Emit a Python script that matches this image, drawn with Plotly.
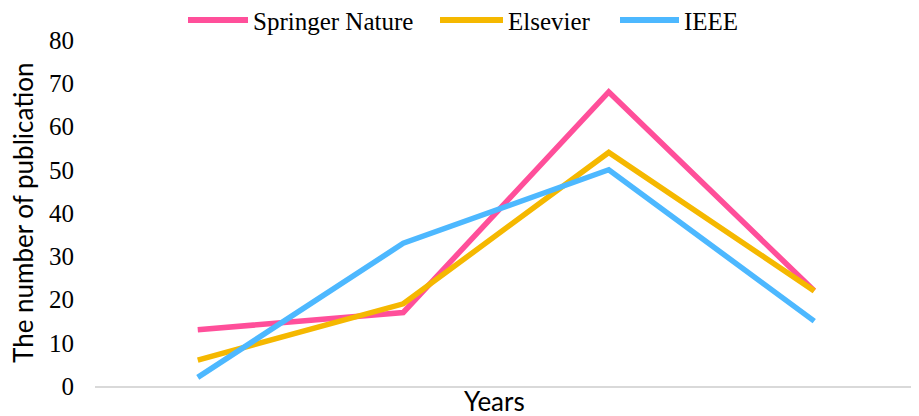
import plotly.graph_objects as go

categories = ["2019", "2020", "2021", "2022"]
springer = [13, 17, 68, 22]
elsevier = [6, 19, 54, 22]
ieee = [2, 33, 50, 15]
series_names = ["Springer Nature", "Elsevier", "IEEE"]
colors = ["#FF4F9A", "#F5B800", "#4DB8FF"]

W, H = 919, 416
OFF = 8  # page body margin offset
# plot area in screen pixels: x 95..917, y 40..386
ML = 95 - OFF
MT = 40 - OFF
MR = W - (917 - OFF)
MB = H - (386 - OFF)
PW, PH = W - ML - MR, H - MT - MB

def px(x):
    return (x - OFF - ML) / PW

def py(y):
    return (H - MB - (y - OFF)) / PH

fig = go.Figure()
for name, vals, c in zip(series_names, [springer, elsevier, ieee], colors):
    fig.add_trace(go.Scatter(x=categories, y=vals, mode="lines", name=name,
                             line=dict(color=c, width=5.5), showlegend=False))

# manual legend (long line samples as in the reference)
legend_items = [(188, 248, 251), (440, 503, 506), (620, 679, 682)]
shapes = []
annotations = []
for (x0, x1, tx), name, c in zip(legend_items, series_names, colors):
    shapes.append(dict(type="line", xref="paper", yref="paper", x0=px(x0), x1=px(x1),
                       y0=py(20), y1=py(20), line=dict(color=c, width=6)))
    annotations.append(dict(text=name, xref="paper", yref="paper", x=px(tx), y=py(21),
                            xanchor="left", yanchor="middle", showarrow=False,
                            font=dict(family="Liberation Serif", size=25, color="#000")))

annotations.append(dict(text="Years", x=px(494), xref="paper", y=py(401), yref="paper",
                        yanchor="middle", xanchor="center", showarrow=False,
                        font=dict(family="Lato", size=26, color="#000")))
annotations.append(dict(text="The number of publication", x=px(23), xref="paper", y=0.5,
                        yref="paper", xanchor="center", yanchor="middle", showarrow=False,
                        textangle=-90, font=dict(family="Lato", size=26, color="#000")))

fig.update_layout(
    width=W, height=H,
    margin=dict(l=ML, r=MR, t=MT, b=MB, autoexpand=False),
    paper_bgcolor="white", plot_bgcolor="white",
    showlegend=False,
    xaxis=dict(type="category", range=[-0.5, 3.5], showticklabels=False, showgrid=False,
               showline=True, linecolor="#D9D9D9", linewidth=2, zeroline=False, ticks=""),
    yaxis=dict(range=[0, 80], dtick=10, showgrid=False, zeroline=False, showline=False,
               tickfont=dict(family="Liberation Serif", size=25, color="#000"), ticks="",
               ticklabelstandoff=20, automargin=False),
    shapes=shapes,
    annotations=annotations,
)
fig.write_html("out.html")
